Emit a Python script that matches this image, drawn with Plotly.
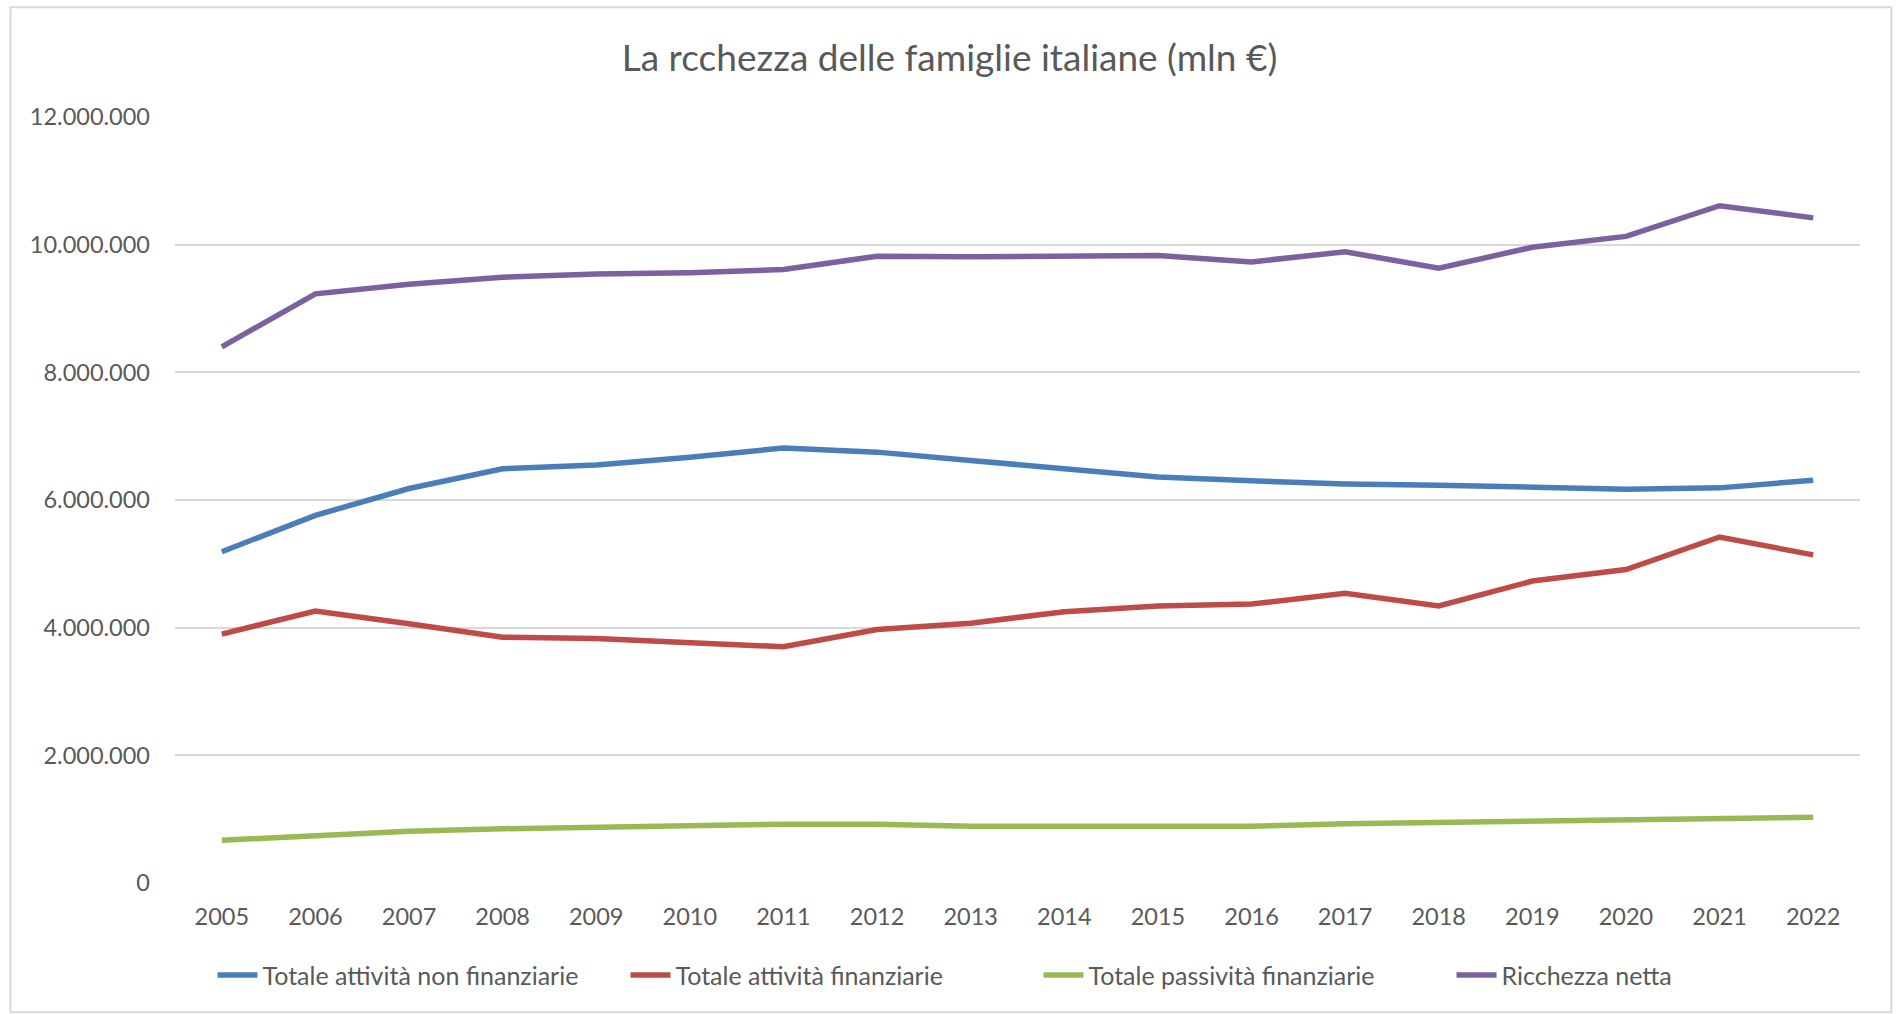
import plotly.graph_objects as go

years = [str(y) for y in range(2005, 2023)]

att_non_fin = [5.19e6, 5.76e6, 6.18e6, 6.49e6, 6.55e6, 6.67e6, 6.815e6, 6.75e6, 6.62e6,
               6.49e6, 6.36e6, 6.30e6, 6.25e6, 6.23e6, 6.21e6, 6.17e6, 6.19e6, 6.31e6]
att_fin = [3.90e6, 4.26e6, 4.06e6, 3.85e6, 3.83e6, 3.77e6, 3.70e6, 3.97e6, 4.07e6,
           4.25e6, 4.34e6, 4.37e6, 4.54e6, 4.34e6, 4.73e6, 4.91e6, 5.42e6, 5.14e6]
pass_fin = [0.67e6, 0.75e6, 0.81e6, 0.85e6, 0.88e6, 0.89e6, 0.92e6, 0.92e6, 0.89e6,
            0.89e6, 0.89e6, 0.89e6, 0.93e6, 0.95e6, 0.97e6, 0.97e6, 1.01e6, 1.03e6]
ricchezza = [8.40e6, 9.23e6, 9.38e6, 9.49e6, 9.54e6, 9.56e6, 9.61e6, 9.82e6, 9.81e6,
             9.83e6, 9.83e6, 9.73e6, 9.89e6, 9.63e6, 9.96e6, 10.13e6, 10.61e6, 10.42e6]

names = ["Totale attività non finanziarie", "Totale attività finanziarie",
         "Totale passività finanziarie", "Ricchezza netta"]
colors = ["#4a7ebb", "#be4b48", "#98b954", "#7d60a0"]
series = [att_non_fin, att_fin, pass_fin, ricchezza]

title_text = "La rcchezza delle famiglie italiane (mln €)"
font_family = "Lato, 'Open Sans', sans-serif"
text_color = "#595959"
grid_color = "#d9d9d9"

fig = go.Figure()
for name, col, vals in zip(names, colors, series):
    fig.add_trace(go.Scatter(x=years, y=vals, mode="lines", name=name,
                             line=dict(color=col, width=5.5)))

W, H = 1899, 1014
L, R, T, B = 174.5, 39.4, 116.7, 131.3
pw, ph = W - L - R, H - T - B

def px(x):
    return (x - L) / pw

def py(y):
    return (H - B - y) / ph

fig.update_layout(
    width=W, height=H,
    margin=dict(l=L, r=R, t=T, b=B, autoexpand=False),
    paper_bgcolor="white", plot_bgcolor="white",
    separators=",.",
    font=dict(family=font_family, color=text_color, size=23.5),
    title=dict(text=title_text, x=0.5, xanchor="center", xref="container",
               y=1 - 58 / H, yanchor="middle", yref="container",
               font=dict(size=37, color=text_color, family=font_family)),
    xaxis=dict(type="category", range=[-0.5, 17.5], showgrid=False, showline=False,
               zeroline=False, ticks="", tickfont=dict(size=23.5, color=text_color),
               ticklabelstandoff=17),
    yaxis=dict(range=[0, 12e6], tickvals=[0, 2e6, 4e6, 6e6, 8e6, 10e6, 12e6],
               tickformat=",d", showgrid=True, gridcolor=grid_color, gridwidth=2,
               zeroline=False, showline=False, ticks="",
               tickfont=dict(size=23.5, color=text_color), ticklabelstandoff=24),
    showlegend=True,
    legend=dict(orientation="h", x=px(212), xanchor="left", y=py(975), yanchor="middle",
                font=dict(size=25, color=text_color, family=font_family),
                itemwidth=40, entrywidth=358, entrywidthmode="pixels",
                tracegroupgap=0, bgcolor="rgba(0,0,0,0)"),
    shapes=[dict(type="rect", xref="paper", yref="paper",
                 x0=px(10), x1=px(1891), y0=py(1012), y1=py(7),
                 line=dict(color=grid_color, width=2), fillcolor="rgba(0,0,0,0)",
                 layer="below")],
)

fig.write_html("out.html", config={"displayModeBar": False},
               post_script="document.body.style.margin='0';")
